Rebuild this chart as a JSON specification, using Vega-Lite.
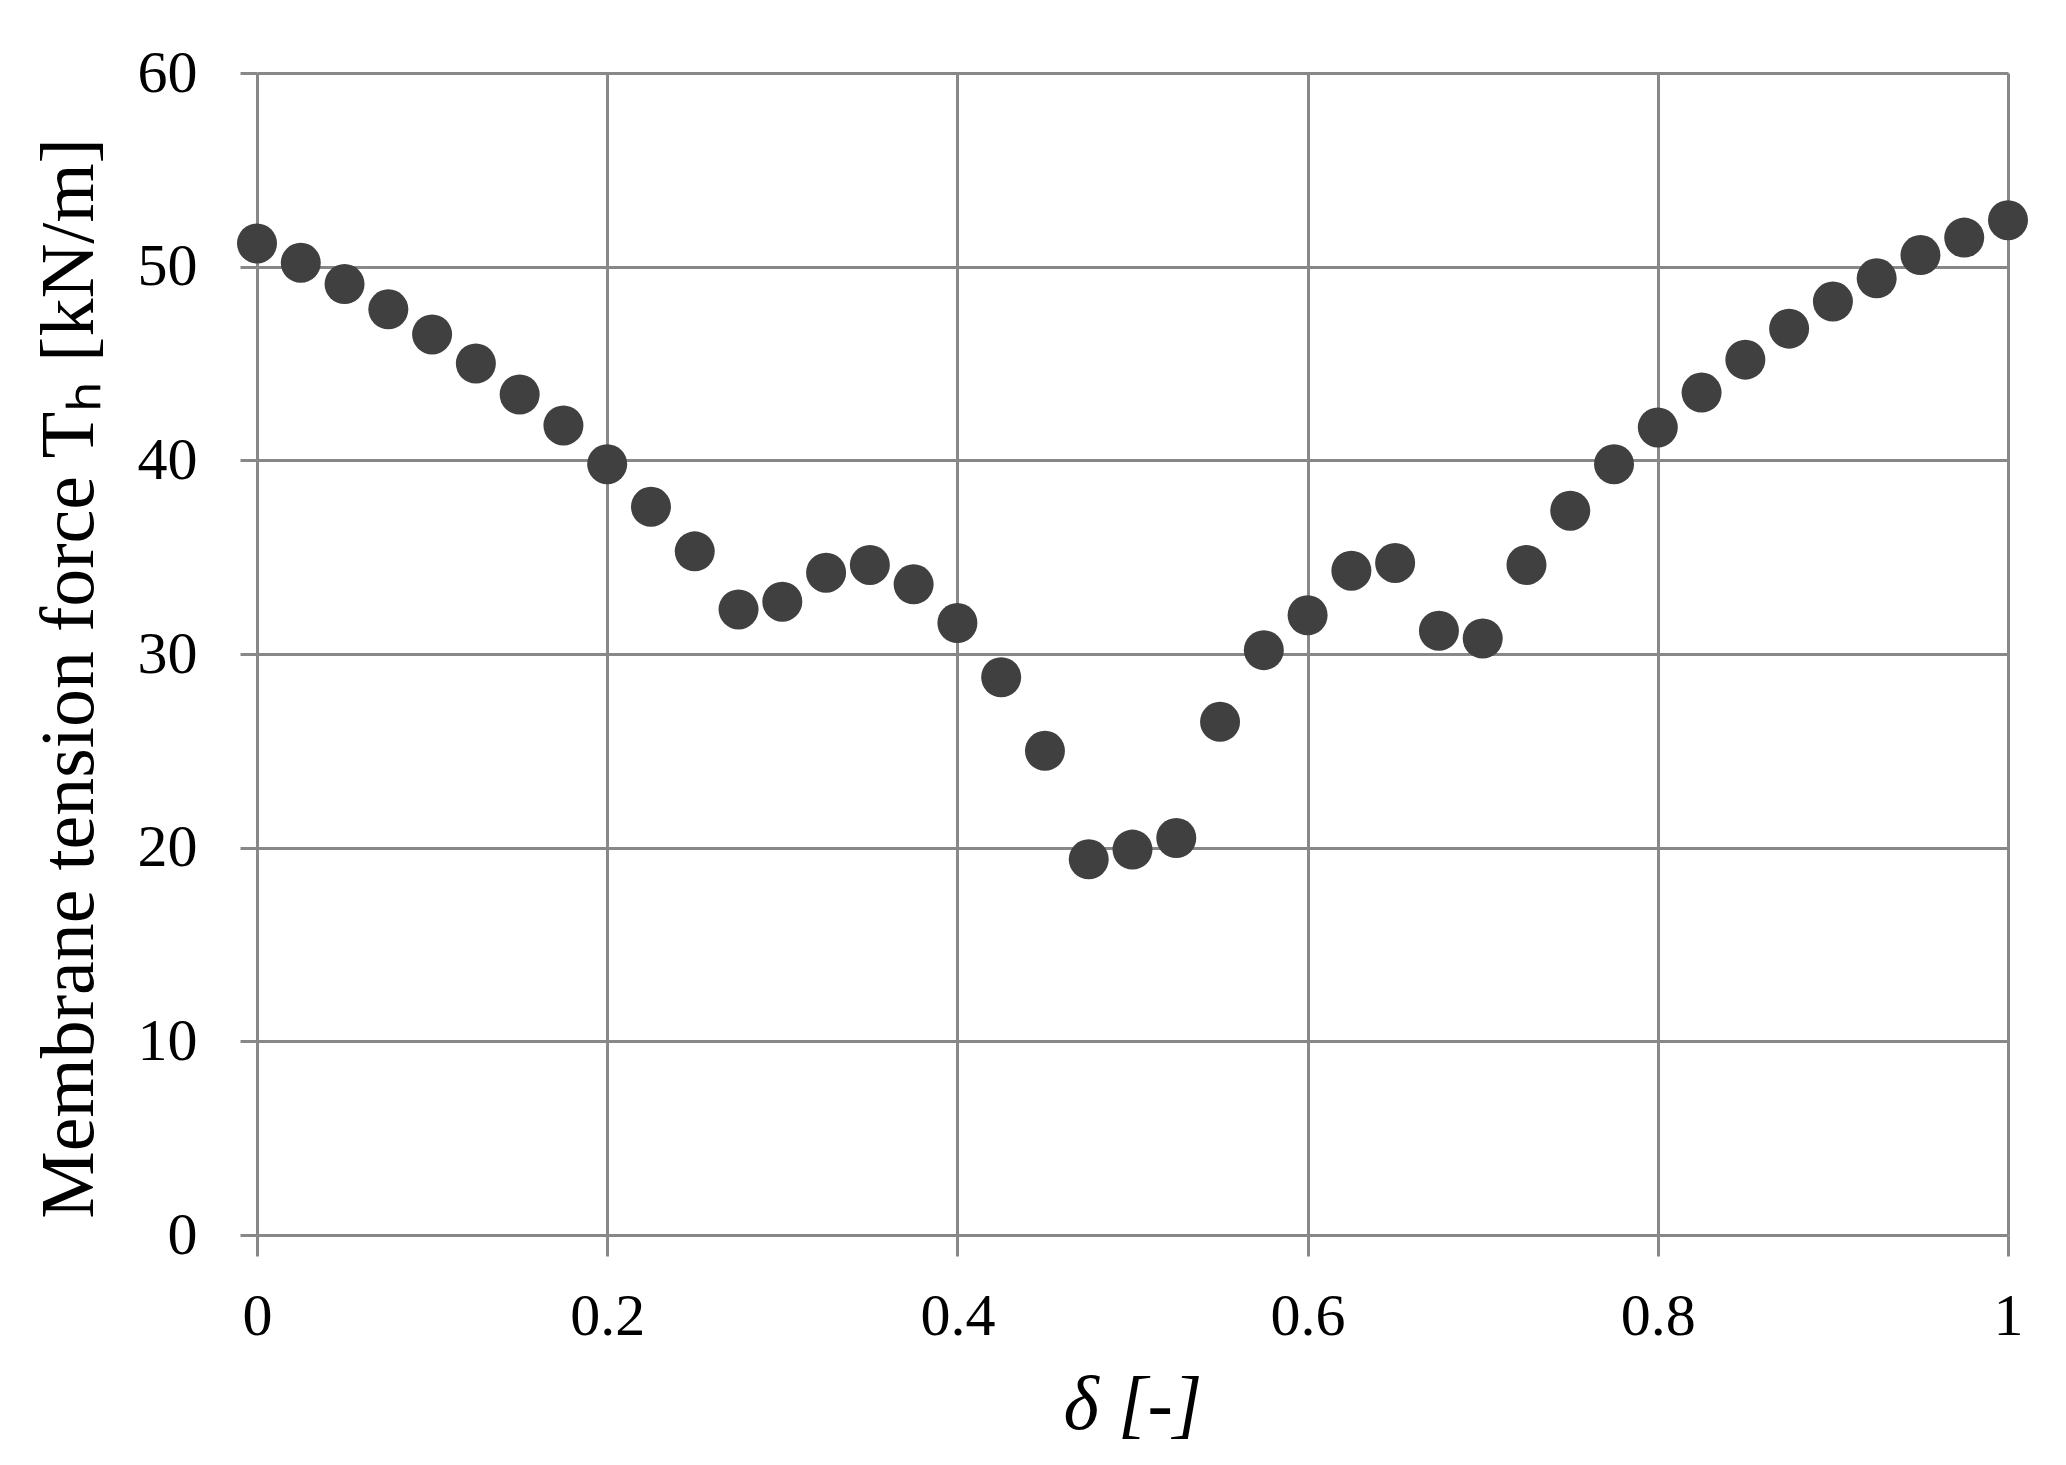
{
  "$schema": "https://vega.github.io/schema/vega-lite/v6.json",
  "width": 1751,
  "height": 1162,
  "autosize": {"type": "none"},
  "padding": {"left": 257, "top": 73, "right": 58, "bottom": 230},
  "background": "white",
  "config": {
    "view": {"stroke": null},
    "font": "Liberation Serif"
  },
  "data": {
    "values": [
      {"d": 0.000, "T": 51.2},
      {"d": 0.025, "T": 50.2},
      {"d": 0.050, "T": 49.1},
      {"d": 0.075, "T": 47.8},
      {"d": 0.100, "T": 46.5},
      {"d": 0.125, "T": 45.0},
      {"d": 0.150, "T": 43.4},
      {"d": 0.175, "T": 41.8},
      {"d": 0.200, "T": 39.8},
      {"d": 0.225, "T": 37.6},
      {"d": 0.250, "T": 35.3},
      {"d": 0.275, "T": 32.3},
      {"d": 0.300, "T": 32.7},
      {"d": 0.325, "T": 34.2},
      {"d": 0.350, "T": 34.6},
      {"d": 0.375, "T": 33.6},
      {"d": 0.400, "T": 31.6},
      {"d": 0.425, "T": 28.8},
      {"d": 0.450, "T": 25.0},
      {"d": 0.475, "T": 19.4},
      {"d": 0.500, "T": 19.9},
      {"d": 0.525, "T": 20.5},
      {"d": 0.550, "T": 26.5},
      {"d": 0.575, "T": 30.2},
      {"d": 0.600, "T": 32.0},
      {"d": 0.625, "T": 34.3},
      {"d": 0.650, "T": 34.7},
      {"d": 0.675, "T": 31.2},
      {"d": 0.700, "T": 30.8},
      {"d": 0.725, "T": 34.6},
      {"d": 0.750, "T": 37.4},
      {"d": 0.775, "T": 39.8},
      {"d": 0.800, "T": 41.7},
      {"d": 0.825, "T": 43.5},
      {"d": 0.850, "T": 45.2},
      {"d": 0.875, "T": 46.8},
      {"d": 0.900, "T": 48.2},
      {"d": 0.925, "T": 49.4},
      {"d": 0.950, "T": 50.6},
      {"d": 0.975, "T": 51.5},
      {"d": 1.000, "T": 52.4}
    ]
  },
  "mark": {"type": "circle", "color": "#404040", "opacity": 1, "size": 1600},
  "encoding": {
    "x": {
      "field": "d",
      "type": "quantitative",
      "scale": {"domain": [0, 1], "nice": false, "zero": false},
      "axis": {
        "title": "δ [-]",
        "values": [0, 0.2, 0.4, 0.6, 0.8, 1],
        "format": "~g",
        "grid": true,
        "gridColor": "#888888",
        "gridWidth": 3,
        "gridOpacity": 1,
        "domainColor": "#888888",
        "domainWidth": 3,
        "tickColor": "#888888",
        "tickWidth": 3,
        "tickSize": 21,
        "labelFont": "Liberation Serif",
        "labelFontSize": 60,
        "labelColor": "#000000",
        "labelPadding": 31,
        "labelFlush": false,
        "labelOverlap": false,
        "titleFont": "Liberation Serif",
        "titleFontSize": 76,
        "titleFontWeight": "normal",
        "titleFontStyle": "italic",
        "titleColor": "#000000",
        "titleBaseline": "alphabetic",
        "titleY": 193
      }
    },
    "y": {
      "field": "T",
      "type": "quantitative",
      "scale": {"domain": [0, 60], "nice": false},
      "axis": {
        "title": "Membrane tension force Tₕ [kN/m]",
        "values": [0, 10, 20, 30, 40, 50, 60],
        "grid": true,
        "gridColor": "#888888",
        "gridWidth": 3,
        "gridOpacity": 1,
        "domainColor": "#888888",
        "domainWidth": 3,
        "tickColor": "#888888",
        "tickWidth": 3,
        "tickSize": 17,
        "labelFont": "Liberation Serif",
        "labelFontSize": 60,
        "labelColor": "#000000",
        "labelPadding": 43,
        "labelFlush": false,
        "labelOverlap": false,
        "titleFont": "Liberation Serif",
        "titleFontSize": 76,
        "titleFontWeight": "normal",
        "titleColor": "#000000",
        "titleBaseline": "alphabetic",
        "titleAngle": 270,
        "titleX": -165,
        "titleY": 605
      }
    }
  }
}
